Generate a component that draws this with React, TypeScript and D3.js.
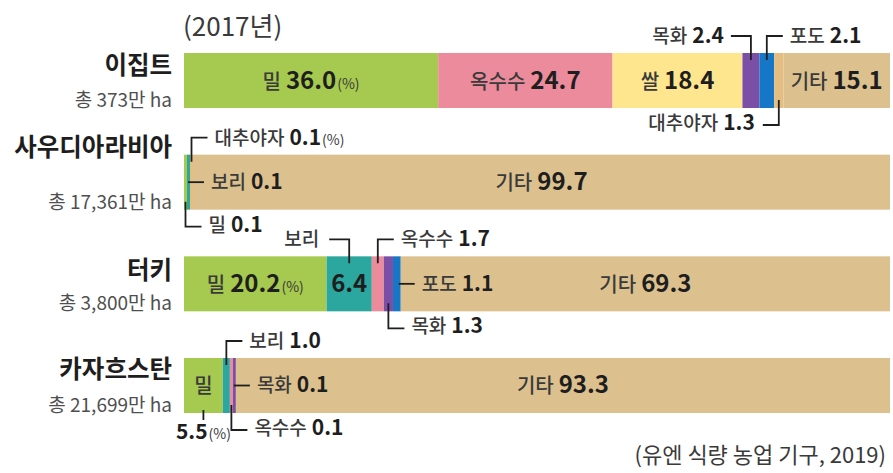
import React from 'react';
import * as d3 from 'd3';

// ---------------- data ----------------
const countries = ['이집트', '사우디아라비아', '터키', '카자흐스탄'];
const totals = ['총 373만 ha', '총 17,361만 ha', '총 3,800만 ha', '총 21,699만 ha'];

const egyptCrops = ['밀', '옥수수', '쌀', '목화', '포도', '대추야자', '기타'];
const egyptValues = [36.0, 24.7, 18.4, 2.4, 2.1, 1.3, 15.1];

const saudiCrops = ['밀', '보리', '대추야자', '기타'];
const saudiValues = [0.1, 0.1, 0.1, 99.7];

const turkeyCrops = ['밀', '보리', '옥수수', '목화', '포도', '기타'];
const turkeyValues = [20.2, 6.4, 1.7, 1.3, 1.1, 69.3];

const kazakhCrops = ['밀', '보리', '옥수수', '목화', '기타'];
const kazakhValues = [5.5, 1.0, 0.1, 0.1, 93.3];

const yearLabel = '(2017년)';
const sourceLabel = '(유엔 식량 농업 기구, 2019)';
const percentUnit = '(%)';

const cropLists = [egyptCrops, saudiCrops, turkeyCrops, kazakhCrops];
const valueLists = [egyptValues, saudiValues, turkeyValues, kazakhValues];

// ---------------- styles / layout ----------------
const W = 893;
const H = 473;
const FONT = "'Noto Sans CJK KR', 'Noto Sans', sans-serif";
const INK = '#1e1e1e';
const SOFT = '#3a3a3a';

const cropColor: Record<string, string> = {
  '밀': '#a6c94f',
  '옥수수': '#ec8b9c',
  '쌀': '#fde68e',
  '목화': '#7c4fa6',
  '포도': '#1577c5',
  '대추야자': '#e6bd80',
  '보리': '#2ca79f',
  '기타': '#dcc18e',
};

// how each segment is labelled
const placement: Record<string, string> = {
  '이집트|밀': 'inside',
  '이집트|옥수수': 'inside',
  '이집트|쌀': 'inside',
  '이집트|목화': 'topLeft',
  '이집트|포도': 'topRight',
  '이집트|대추야자': 'bottomLeft',
  '이집트|기타': 'inside',
  '사우디아라비아|밀': 'bottomRight',
  '사우디아라비아|보리': 'side',
  '사우디아라비아|대추야자': 'topRight',
  '사우디아라비아|기타': 'inside',
  '터키|밀': 'inside',
  '터키|보리': 'nameTopLeft',
  '터키|옥수수': 'topRight',
  '터키|목화': 'bottomRight',
  '터키|포도': 'side',
  '터키|기타': 'inside',
  '카자흐스탄|밀': 'valueBelow',
  '카자흐스탄|보리': 'topRight',
  '카자흐스탄|옥수수': 'bottomRight',
  '카자흐스탄|목화': 'side',
  '카자흐스탄|기타': 'inside',
};
const percentOn = ['이집트|밀', '사우디아라비아|대추야자', '터키|밀', '카자흐스탄|밀'];
const nameBaselineOffset = [21, 1, 23, 20];

const MIN_W = 3;
const fmt = d3.format('.1f');

const x = d3.scaleLinear().domain([0, 100]).range([184, 890]);
const y = d3
  .scaleBand<string>()
  .domain(countries)
  .range([53, 413])
  .paddingInner(0.459)
  .paddingOuter(0);

type Seg = { crop: string; value: number; x0: number; x1: number };

function layoutRow(crops: string[], values: number[]): Seg[] {
  const full = x(100) - x(0);
  const widths = values.map((v, i) =>
    crops[i] === '기타' ? 0 : Math.max(x(v) - x(0), MIN_W)
  );
  const used = d3.sum(widths);
  const finalW = widths.map((w, i) => (crops[i] === '기타' ? full - used : w));
  const ends = d3.cumsum(finalW);
  return crops.map((c, i) => ({
    crop: c,
    value: values[i],
    x0: x(0) + (ends[i] - finalW[i]),
    x1: x(0) + ends[i],
  }));
}

function Label(props: {
  x: number;
  y: number;
  anchor: 'start' | 'middle' | 'end';
  name?: string;
  value?: string;
  pct?: boolean;
  kSize: number;
  nSize: number;
}) {
  const { name, value, pct, kSize, nSize } = props;
  return (
    <text x={props.x} y={props.y} textAnchor={props.anchor} fontFamily={FONT}>
      {name && (
        <tspan fontSize={kSize} fontWeight={500} fill={SOFT}>
          {name}
        </tspan>
      )}
      {value && (
        <tspan fontSize={nSize} fontWeight={700} fill={INK} dx={name ? 5 : 0}>
          {value}
        </tspan>
      )}
      {pct && (
        <tspan fontSize={14} fontWeight={400} fill={SOFT} dx={1}>
          {percentUnit}
        </tspan>
      )}
    </text>
  );
}

const CK = 19;
const CN = 21;
const IK = 20;
const IN = 24;

function Row({ idx }: { idx: number }) {
  const country = countries[idx];
  const segs = layoutRow(cropLists[idx], valueLists[idx]);
  const top = y(country) as number;
  const h = y.bandwidth();
  const bottom = top + h;
  const cy = top + h / 2;
  const lyTop = top - 17;
  const lyBot = bottom + 17;
  const line = { stroke: INK, strokeWidth: 1.8, fill: 'none' };

  const labels: React.ReactNode[] = [];
  segs.forEach((s, i) => {
    const key = `${country}|${s.crop}`;
    const kind = placement[key];
    const pct = percentOn.includes(key);
    const cx = (s.x0 + s.x1) / 2;
    const val = fmt(s.value);
    switch (kind) {
      case 'inside':
        labels.push(
          <Label key={i} x={cx} y={cy + 8} anchor="middle" name={s.crop} value={val} pct={pct} kSize={IK} nSize={IN} />
        );
        break;
      case 'topLeft':
        labels.push(
          <g key={i}>
            <path d={`M${cx},${top + 7}V${lyTop}H${cx - 20}`} {...line} />
            <Label x={cx - 27} y={lyTop + 7} anchor="end" name={s.crop} value={val} pct={pct} kSize={CK} nSize={CN} />
          </g>
        );
        break;
      case 'nameTopLeft':
        labels.push(
          <g key={i}>
            <path d={`M${cx},${top + 7}V${lyTop}H${cx - 20}`} {...line} />
            <Label x={cx - 30} y={lyTop + 7} anchor="end" name={s.crop} kSize={CK} nSize={CN} />
            <Label x={cx} y={cy + 8} anchor="middle" value={val} kSize={IK} nSize={IN} />
          </g>
        );
        break;
      case 'topRight':
        labels.push(
          <g key={i}>
            <path d={`M${cx},${top + 7}V${lyTop}H${cx + 16}`} {...line} />
            <Label x={cx + 23} y={lyTop + 7} anchor="start" name={s.crop} value={val} pct={pct} kSize={CK} nSize={CN} />
          </g>
        );
        break;
      case 'bottomLeft':
        labels.push(
          <g key={i}>
            <path d={`M${cx},${bottom - 8}V${lyBot}H${cx - 16}`} {...line} />
            <Label x={cx - 24} y={lyBot + 5} anchor="end" name={s.crop} value={val} pct={pct} kSize={CK} nSize={CN} />
          </g>
        );
        break;
      case 'bottomRight':
        labels.push(
          <g key={i}>
            <path d={`M${cx},${bottom - 8}V${lyBot}H${cx + 16}`} {...line} />
            <Label x={cx + 23} y={lyBot + 5} anchor="start" name={s.crop} value={val} pct={pct} kSize={CK} nSize={CN} />
          </g>
        );
        break;
      case 'side':
        labels.push(
          <g key={i}>
            <path d={`M${s.x1 - 2},${cy}H${s.x1 + 14}`} {...line} />
            <Label x={s.x1 + 21} y={cy + 7} anchor="start" name={s.crop} value={val} pct={pct} kSize={CK} nSize={CN} />
          </g>
        );
        break;
      case 'valueBelow':
        labels.push(
          <g key={i}>
            <Label x={cx} y={cy + 8} anchor="middle" name={s.crop} kSize={IK} nSize={IN} />
            <path d={`M${cx},${bottom - 3}V${bottom + 7}`} {...line} />
            <Label x={cx} y={bottom + 26} anchor="middle" value={val} pct={pct} kSize={CK} nSize={CN} />
          </g>
        );
        break;
      default:
        break;
    }
  });

  return (
    <g>
      <text
        x={172}
        y={top + nameBaselineOffset[idx]}
        textAnchor="end"
        fontFamily={FONT}
        fontSize={24.5}
        fontWeight={700}
        fill={INK}
      >
        {country}
      </text>
      <text x={172} y={bottom - 1} textAnchor="end" fontFamily={FONT} fontSize={19} fill="#4f4f4f">
        {totals[idx]}
      </text>
      {segs.map((s, i) => (
        <rect key={i} x={s.x0} y={top} width={Math.max(0, s.x1 - s.x0)} height={h} fill={cropColor[s.crop]} />
      ))}
      {labels}
    </g>
  );
}

export default function App() {
  return (
    <svg
      width={W}
      height={H}
      viewBox={`0 0 ${W} ${H}`}
      style={{ position: 'absolute', left: 0, top: 0, background: '#fff' }}
    >
      <rect width={W} height={H} fill="#fff" />
      <text x={183} y={36} fontFamily={FONT} fontSize={26} fill={SOFT}>
        {yearLabel}
      </text>
      {countries.map((c, i) => (
        <Row key={c} idx={i} />
      ))}
      <text x={886} y={463} textAnchor="end" fontFamily={FONT} fontSize={22} fill={SOFT}>
        {sourceLabel}
      </text>
    </svg>
  );
}
